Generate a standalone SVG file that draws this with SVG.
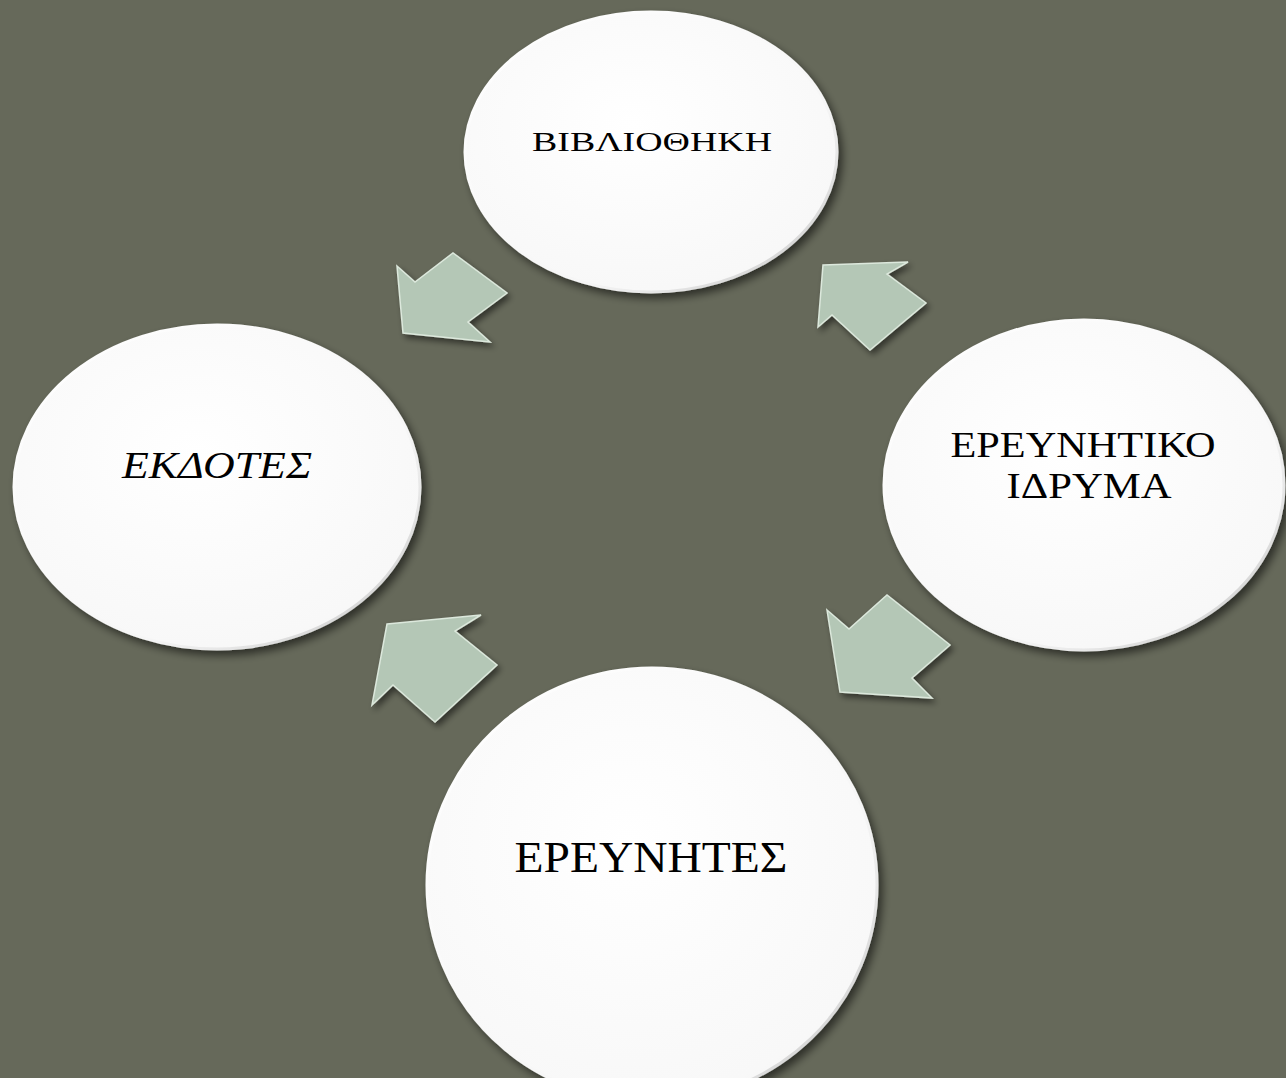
<svg xmlns="http://www.w3.org/2000/svg" width="1286" height="1078" viewBox="0 0 1286 1078">
<defs>
<style>
.node{fill:url(#disc);stroke:url(#rim);stroke-width:3;filter:url(#sh)}
.arrow{fill:#b4c7b6;stroke:#dce8dc;stroke-width:1.5;stroke-linejoin:miter;filter:url(#ash)}
.lbl{font-family:"Liberation Serif","DejaVu Serif",serif;fill:#000;text-anchor:middle}
</style>
<radialGradient id="disc" cx="45%" cy="40%" r="70%">
<stop offset="0" stop-color="#ffffff"/>
<stop offset="0.85" stop-color="#f8f8f8"/>
<stop offset="1" stop-color="#f2f2f2"/>
</radialGradient>
<linearGradient id="rim" x1="0" y1="0" x2="1" y2="1">
<stop offset="0" stop-color="#ffffff"/>
<stop offset="0.65" stop-color="#f6f6f6"/>
<stop offset="1" stop-color="#c4c4c4"/>
</linearGradient>
<filter id="sh" x="-10%" y="-10%" width="125%" height="125%">
<feGaussianBlur in="SourceAlpha" stdDeviation="4"/>
<feOffset dx="4" dy="5" result="b"/>
<feComponentTransfer><feFuncA type="linear" slope="0.55"/></feComponentTransfer>
<feMerge><feMergeNode/><feMergeNode in="SourceGraphic"/></feMerge>
</filter>
<filter id="ash" x="-15%" y="-15%" width="140%" height="140%">
<feGaussianBlur in="SourceAlpha" stdDeviation="3"/>
<feOffset dx="3" dy="4" result="b"/>
<feComponentTransfer><feFuncA type="linear" slope="0.5"/></feComponentTransfer>
<feMerge><feMergeNode/><feMergeNode in="SourceGraphic"/></feMerge>
</filter>
</defs>
<rect width="1286" height="1078" fill="#66695a"/>

<g id="connectors">
<polygon class="arrow" points="397,266 415,282 453,253 507,293 468,322 490,342 403,333"/>
<polygon class="arrow" points="823,265 908,262 887,274 926,303 870,350 832,315 818,327"/>
<polygon class="arrow" points="827,610 849,629 887,595 950,645 912,678 932,698 840,692"/>
<polygon class="arrow" points="387,624 481,615 455,631 497,665 435,722 393,685 372,705"/>
</g>

<g id="node-bibliothiki">
<ellipse class="node" cx="651" cy="152" rx="186" ry="140"/>
<text class="lbl" x="652" y="151" font-size="28" textLength="240" lengthAdjust="spacingAndGlyphs">ΒΙΒΛΙΟΘΗΚΗ</text>
</g>

<g id="node-ereunitiko">
<ellipse class="node" cx="1084" cy="485" rx="200" ry="165"/>
<text class="lbl" x="1083" y="457" font-size="36" textLength="265" lengthAdjust="spacingAndGlyphs">ΕΡΕΥΝΗΤΙΚΟ</text>
<text class="lbl" x="1089" y="498" font-size="36" textLength="165" lengthAdjust="spacingAndGlyphs">ΙΔΡΥΜΑ</text>
</g>

<g id="node-ekdotes">
<ellipse class="node" cx="217" cy="487" rx="203" ry="162"/>
<text class="lbl" x="217" y="478" font-size="37" font-style="italic" textLength="190" lengthAdjust="spacingAndGlyphs">ΕΚΔΟΤΕΣ</text>
</g>

<g id="node-ereunites">
<ellipse class="node" cx="652" cy="885" rx="225" ry="217"/>
<text class="lbl" x="651" y="872" font-size="45" textLength="273" lengthAdjust="spacingAndGlyphs">ΕΡΕΥΝΗΤΕΣ</text>
</g>
</svg>
